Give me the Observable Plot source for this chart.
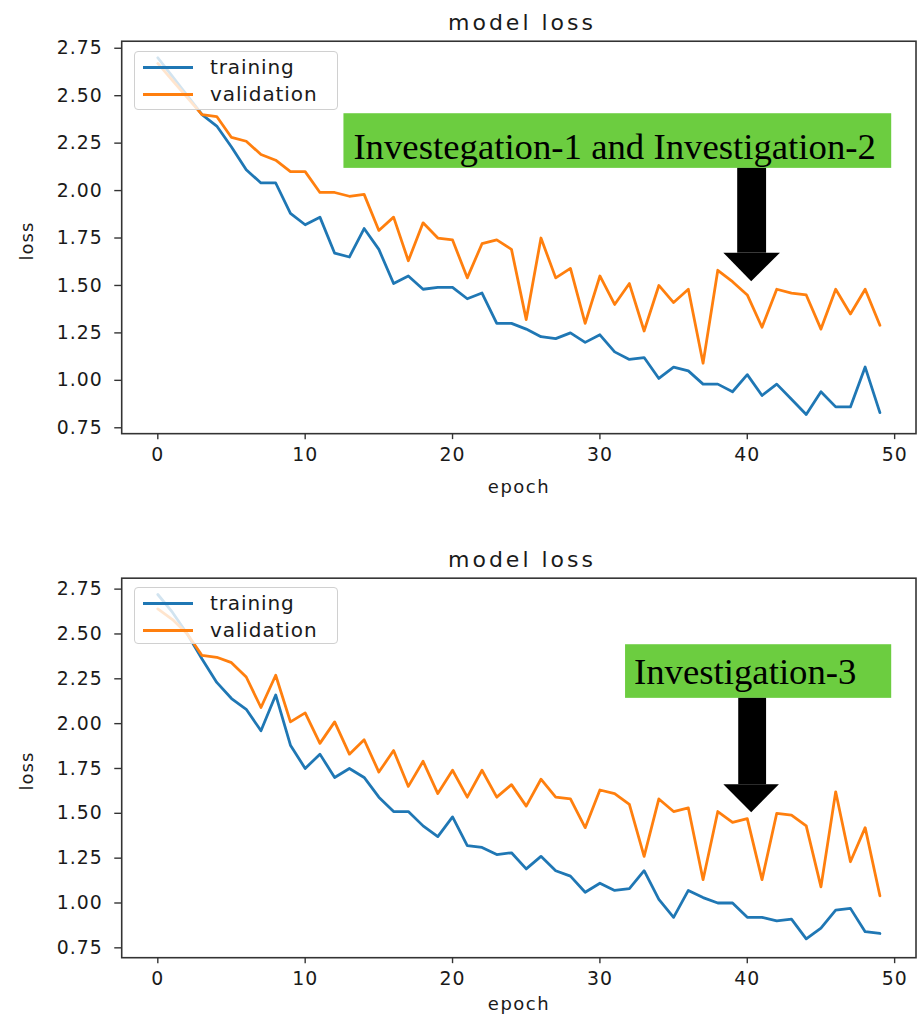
<!DOCTYPE html>
<html>
<head>
<meta charset="utf-8">
<script src="https://cdn.jsdelivr.net/npm/d3@7"></script>
<script src="https://cdn.jsdelivr.net/npm/@observablehq/plot@0.6"></script>
<style>
  html, body { margin: 0; padding: 0; background: #fff; }
  #wrap { position: relative; width: 918px; height: 1015px; overflow: hidden; font-family: "DejaVu Sans", sans-serif; color: #1a1a1a; }
  .lbl { position: absolute; transform: translate(-50%, -50%); white-space: nowrap; }
  .legend { position: absolute; border: 1px solid #d0d0d0; border-radius: 4px; background: rgba(255,255,255,0.8); z-index: 5; box-sizing: border-box; }
  .legend .row { position: absolute; left: 0; display: flex; align-items: center; }
  .legend .sw { width: 50px; height: 3px; margin-left: 8px; }
  .legend .tx { margin-left: 17px; font-size: 20px; letter-spacing: 0.9px; }
</style>
</head>
<body>
<div id="wrap"></div>
<script>
// ---- data ----
const epochs = [0,1,2,3,4,5,6,7,8,9,10,11,12,13,14,15,16,17,18,19,20,21,22,23,24,25,26,27,28,29,30,31,32,33,34,35,36,37,38,39,40,41,42,43,44,45,46,47,48,49];

const trainTop = [2.70,2.60,2.50,2.40,2.34,2.23,2.11,2.04,2.04,1.88,1.82,1.86,1.67,1.65,1.80,1.69,1.51,1.55,1.48,1.49,1.49,1.43,1.46,1.30,1.30,1.27,1.23,1.22,1.25,1.20,1.24,1.15,1.11,1.12,1.01,1.07,1.05,0.98,0.98,0.94,1.03,0.92,0.98,0.90,0.82,0.94,0.86,0.86,1.07,0.83];
const valTop   = [2.67,2.58,2.49,2.40,2.39,2.28,2.26,2.19,2.16,2.10,2.10,1.99,1.99,1.97,1.98,1.79,1.86,1.63,1.83,1.75,1.74,1.54,1.72,1.74,1.69,1.32,1.75,1.54,1.59,1.30,1.55,1.40,1.51,1.26,1.50,1.41,1.48,1.09,1.58,1.52,1.45,1.28,1.48,1.46,1.45,1.27,1.48,1.35,1.48,1.29];

const trainBot = [2.72,2.62,2.50,2.36,2.23,2.14,2.08,1.96,2.16,1.88,1.75,1.83,1.70,1.75,1.70,1.59,1.51,1.51,1.43,1.37,1.48,1.32,1.31,1.27,1.28,1.19,1.26,1.18,1.15,1.06,1.11,1.07,1.08,1.18,1.02,0.92,1.07,1.03,1.00,1.00,0.92,0.92,0.90,0.91,0.80,0.86,0.96,0.97,0.84,0.83];
const valBot   = [2.64,2.58,2.50,2.38,2.37,2.34,2.26,2.09,2.27,2.01,2.06,1.89,2.01,1.83,1.91,1.73,1.85,1.65,1.79,1.61,1.74,1.59,1.74,1.59,1.66,1.54,1.69,1.59,1.58,1.42,1.63,1.61,1.55,1.26,1.58,1.51,1.53,1.13,1.51,1.45,1.47,1.13,1.50,1.49,1.43,1.09,1.62,1.23,1.42,1.04];

const seriesNames = ["training", "validation"];
const seriesColors = ["#1f77b4", "#ff7f0e"];
const xTicks = [0, 10, 20, 30, 40, 50];
const yTicks = [0.75, 1.00, 1.25, 1.50, 1.75, 2.00, 2.25, 2.50, 2.75];
const titleText = "model loss";
const xLabel = "epoch";
const yLabel = "loss";

// annotations (in data units: epoch / loss)
const noteTop = {label: "Investegation-1 and Investigation-2", x1: 12.63, x2: 49.8, y1: 2.117, y2: 2.405, tx: 31.0, ty: 2.226,
  shaftX1: 39.35, shaftX2: 41.31, headX1: 38.41, headX2: 42.25, tipX: 40.3, headY: 1.670, tipY: 1.520};
const noteBot = {label: "Investigation-3", x1: 31.74, x2: 49.8, y1: 2.141, y2: 2.440, tx: 39.86, ty: 2.285,
  shaftX1: 39.42, shaftX2: 41.31, headX1: 38.41, headX2: 42.18, tipX: 40.3, headY: 1.659, tipY: 1.503};

const wrap = document.getElementById("wrap");

function panel(cfg) {
  const rows = [];
  epochs.forEach((e, i) => {
    rows.push({epoch: e, loss: cfg.train[i], s: seriesNames[0]});
    rows.push({epoch: e, loss: cfg.val[i], s: seriesNames[1]});
  });
  const n = cfg.note;
  const head = [
    {x: n.headX1, y1: n.headY, y2: n.headY},
    {x: n.tipX, y1: n.headY, y2: n.tipY},
    {x: n.headX2, y1: n.headY, y2: n.headY}
  ];
  const svg = Plot.plot({
    width: 924,
    height: cfg.height,
    marginLeft: 122,
    marginRight: 2.5,
    marginTop: cfg.marginTop,
    marginBottom: cfg.marginBottom,
    style: {fontFamily: "DejaVu Sans, sans-serif", fontSize: "19px", color: "#1a1a1a", background: "transparent", overflow: "visible"},
    x: {domain: [-2.45, 51.45]},
    y: {domain: cfg.yDomain},
    color: {domain: seriesNames, range: seriesColors},
    marks: [
      Plot.line(rows, {x: "epoch", y: "loss", z: "s", stroke: "s", strokeWidth: 2.8, strokeLinejoin: "round"}),
      Plot.rect([n], {x1: "x1", x2: "x2", y1: "y1", y2: "y2", fill: "#6ccd40"}),
      Plot.text([n], {x: "tx", y: "ty", text: "label", fontFamily: "Liberation Serif, Times New Roman, serif", fontSize: 37, fill: "#000", lineAnchor: "middle"}),
      Plot.rect([n], {x1: "shaftX1", x2: "shaftX2", y1: "headY", y2: "y1", fill: "#000"}),
      Plot.areaY(head, {x: "x", y1: "y1", y2: "y2", fill: "#000", curve: "linear"}),
      Plot.frame({stroke: "#333", strokeWidth: 1.6}),
      Plot.axisX(xTicks, {tickSize: 6, tickPadding: 8, label: null, stroke: "#333", strokeWidth: 1.4, fontSize: 19, fill: "#1a1a1a"}),
      Plot.axisY(yTicks, {tickSize: 7, tickPadding: 12, label: null, tickFormat: d3.format(".2f"), stroke: "#333", strokeWidth: 1.4, fontSize: 19, fill: "#1a1a1a"})
    ]
  });
  svg.style.position = "absolute";
  svg.style.left = "0px";
  svg.style.top = cfg.top + "px";
  svg.querySelectorAll("text").forEach(t => {
    if (!t.closest("[font-family*='Serif']")) t.style.letterSpacing = "1px";
  });
  wrap.appendChild(svg);

  // title and axis labels
  const frameTop = cfg.top + cfg.marginTop;
  const frameBottom = cfg.top + cfg.height - cfg.marginBottom;
  const t = document.createElement("div");
  t.className = "lbl"; t.textContent = titleText;
  t.style.left = "522px"; t.style.top = (frameTop - 19) + "px";
  t.style.fontSize = "22px"; t.style.letterSpacing = "3px";
  wrap.appendChild(t);
  const xl = document.createElement("div");
  xl.className = "lbl"; xl.textContent = xLabel;
  xl.style.left = "519px"; xl.style.top = (frameBottom + cfg.xLabelOff) + "px";
  xl.style.fontSize = "18px"; xl.style.letterSpacing = "1.5px";
  wrap.appendChild(xl);
  const yl = document.createElement("div");
  yl.className = "lbl"; yl.textContent = yLabel;
  yl.style.left = "26px"; yl.style.top = ((frameTop + frameBottom) / 2 + 2) + "px";
  yl.style.fontSize = "18px"; yl.style.letterSpacing = "1px";
  yl.style.transform = "translate(-50%, -50%) rotate(-90deg)";
  wrap.appendChild(yl);

  // legend
  const lg = document.createElement("div");
  lg.className = "legend";
  lg.style.left = "134px"; lg.style.top = cfg.legendTop + "px";
  lg.style.width = "204px"; lg.style.height = cfg.legendH + "px";
  seriesNames.forEach((name, i) => {
    const r = document.createElement("div");
    r.className = "row";
    r.style.top = (cfg.legendRows[i] - 12) + "px";
    r.style.height = "24px";
    const sw = document.createElement("div");
    sw.className = "sw"; sw.style.background = seriesColors[i];
    const tx = document.createElement("div");
    tx.className = "tx"; tx.textContent = name;
    r.appendChild(sw); r.appendChild(tx);
    lg.appendChild(r);
  });
  wrap.appendChild(lg);
}

panel({train: trainTop, val: valTop, note: noteTop, yDomain: [0.719, 2.787],
  top: 0, height: 500, marginTop: 41, marginBottom: 64, legendTop: 51, legendH: 59, legendRows: [15, 42], xLabelOff: 50});
panel({train: trainBot, val: valBot, note: noteBot, yDomain: [0.695, 2.811],
  top: 530, height: 485, marginTop: 48, marginBottom: 55, legendTop: 587, legendH: 57, legendRows: [15, 42], xLabelOff: 43});
</script>
</body>
</html>
